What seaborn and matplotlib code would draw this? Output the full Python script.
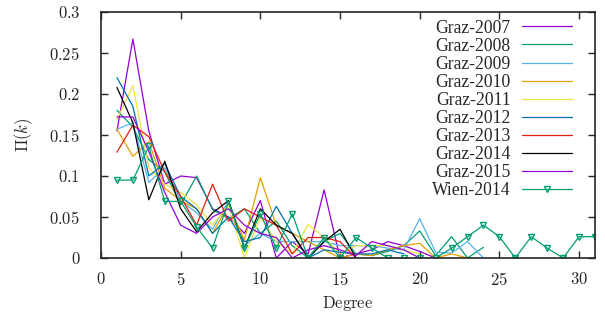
import numpy as np
import pandas as pd
import seaborn as sns
import matplotlib
matplotlib.use('Agg')
import matplotlib.pyplot as plt

# degree distribution per network, index k = 1, 2, ...
graz_2007 = [0.155, 0.267, 0.155, 0.090, 0.100, 0.098, 0.060, 0.050, 0.030, 0.070, 0.000, 0.020,
             0.005, 0.083, 0.000, 0.005, 0.010, 0.020, 0.015, 0.008, 0.000]
graz_2008 = [0.180, 0.160, 0.120, 0.105, 0.065, 0.100, 0.059, 0.048, 0.060, 0.030, 0.045, 0.015,
             0.000, 0.020, 0.030, 0.005, 0.003, 0.008, 0.015, 0.033, 0.003, 0.026, 0.000, 0.013]
graz_2009 = [0.157, 0.165, 0.092, 0.110, 0.070, 0.055, 0.035, 0.070, 0.015, 0.030, 0.020, 0.020,
             0.020, 0.020, 0.015, 0.015, 0.015, 0.012, 0.010, 0.048, 0.007, 0.006, 0.020, 0.000]
graz_2010 = [0.157, 0.124, 0.142, 0.085, 0.070, 0.060, 0.030, 0.065, 0.022, 0.098, 0.040, 0.030,
             0.020, 0.010, 0.000, 0.005, 0.003, 0.010, 0.015, 0.018, 0.000, 0.005, 0.000]
graz_2011 = [0.169, 0.210, 0.110, 0.090, 0.080, 0.065, 0.040, 0.065, 0.000, 0.050, 0.020, 0.005,
             0.041, 0.025, 0.005, 0.015, 0.015, 0.015, 0.010, 0.005]
graz_2012 = [0.220, 0.185, 0.100, 0.115, 0.075, 0.060, 0.030, 0.050, 0.020, 0.025, 0.063, 0.030,
             0.000, 0.010, 0.007, 0.005, 0.005, 0.010, 0.005]
graz_2013 = [0.129, 0.162, 0.148, 0.105, 0.075, 0.040, 0.090, 0.045, 0.060, 0.050, 0.040, 0.005,
             0.025, 0.025, 0.020, 0.000]
graz_2014 = [0.208, 0.165, 0.071, 0.118, 0.060, 0.032, 0.055, 0.070, 0.012, 0.060, 0.040, 0.030,
             0.000, 0.020, 0.035, 0.000]
graz_2015 = [0.172, 0.172, 0.130, 0.080, 0.040, 0.030, 0.050, 0.060, 0.040, 0.030, 0.025, 0.000,
             0.010, 0.015, 0.010, 0.003, 0.020, 0.015, 0.010, 0.000]
wien_2014 = [0.095, 0.095, 0.136, 0.069, 0.069, 0.038, 0.012, 0.069, 0.012, 0.054, 0.012, 0.054,
             0.000, 0.025, 0.000, 0.025, 0.012, 0.000, 0.000, 0.000, 0.000, 0.012, 0.026, 0.040,
             0.026, 0.000, 0.026, 0.012, 0.000, 0.026, 0.026]

labels = ['Graz-2007', 'Graz-2008', 'Graz-2009', 'Graz-2010', 'Graz-2011',
          'Graz-2012', 'Graz-2013', 'Graz-2014', 'Graz-2015', 'Wien-2014']
values = [graz_2007, graz_2008, graz_2009, graz_2010, graz_2011,
          graz_2012, graz_2013, graz_2014, graz_2015, wien_2014]
colors = ['#9400d3', '#009e73', '#56b4e9', '#e69f00', '#f0e442',
          '#0072b2', '#e51e10', '#000000', '#9400d3', '#009e73']

xticks = [0, 5, 10, 15, 20, 25, 30]
yticks = [0, 0.05, 0.1, 0.15, 0.2, 0.25, 0.3]

sns.set_style('ticks')
plt.rcParams['font.family'] = ['Liberation Serif', 'DejaVu Serif']
plt.rcParams['mathtext.fontset'] = 'cm'

fig = plt.figure(figsize=(6.05, 3.2), dpi=100)
ax = fig.add_axes([101 / 605, 1 - 258 / 320, 494 / 605, 246 / 320])

for lab, vals, col in zip(labels, values, colors):
    df = pd.DataFrame({'k': np.arange(1, len(vals) + 1), 'p': vals})
    if lab == 'Wien-2014':
        sns.lineplot(data=df, x='k', y='p', ax=ax, color=col, linewidth=0.9, label=lab,
                     marker='v', markersize=5, markerfacecolor='none', markeredgecolor=col,
                     markeredgewidth=1.0)
    else:
        sns.lineplot(data=df, x='k', y='p', ax=ax, color=col, linewidth=0.9, label=lab)

ax.set_xlim(0, 31)
ax.set_ylim(0, 0.3)
ax.set_xticks(xticks)
ax.set_yticks(yticks)
ax.set_xticklabels(['$%g$' % t for t in xticks], fontsize=12)
ax.set_yticklabels(['$%g$' % t for t in yticks], fontsize=12)
ax.tick_params(axis='x', direction='in', length=5, width=1, top=True, pad=10)
ax.tick_params(axis='y', direction='in', length=5, width=1, right=True, pad=15)
for sp in ax.spines.values():
    sp.set_linewidth(1.2)
    sp.set_visible(True)
ax.set_xlabel(r'$\mathrm{Degree}$', fontsize=12, labelpad=4)
ax.set_ylabel(r'$\Pi(k)$', fontsize=12, labelpad=10)

leg = ax.legend(loc='upper right', bbox_to_anchor=(0.972, 1.005), frameon=False,
                markerfirst=False, fontsize=12.7, handlelength=2.85, labelspacing=0.06,
                borderpad=0, handletextpad=0.65, numpoints=1)

fig.savefig('out.png', dpi=100)
